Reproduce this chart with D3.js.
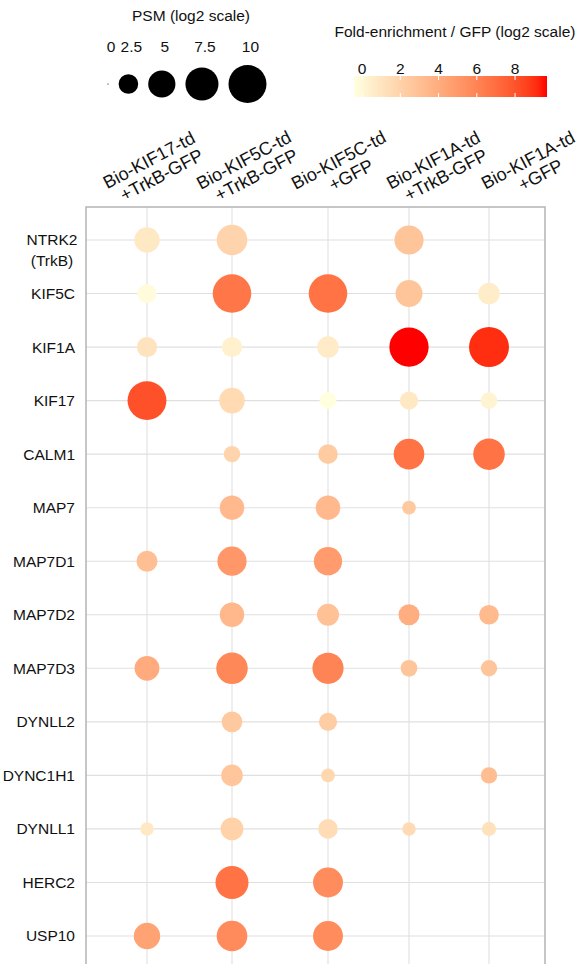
<!DOCTYPE html>
<html>
<head>
<meta charset="utf-8">
<script src="https://cdn.jsdelivr.net/npm/d3@7"></script>
<style>
  body { margin: 0; background: #fff; }
  text { font-family: "Liberation Sans", Arial, sans-serif; fill: #111; }
</style>
</head>
<body>
<div id="chart"></div>
<script>
const proteins = ["NTRK2\n(TrkB)", "KIF5C", "KIF1A", "KIF17", "CALM1", "MAP7", "MAP7D1",
    "MAP7D2", "MAP7D3", "DYNLL2", "DYNC1H1", "DYNLL1", "HERC2", "USP10"];

const conditions = ["Bio-KIF17-td\n+TrkB-GFP", "Bio-KIF5C-td\n+TrkB-GFP", "Bio-KIF5C-td\n+GFP",
    "Bio-KIF1A-td\n+TrkB-GFP", "Bio-KIF1A-td\n+GFP"];

// PSM (log2), one row per protein, one value per condition (null = not detected)
const psm = [
    [4.3, 6.4, null, 5.8, null],
    [2.4, 10.3, 10.3, 4.9, 3.05],
    [2.7, 2.7, 3.05, 10.7, 11.1],
    [10.5, 4.4, 1.8, 2.15, 1.8],
    [null, 1.7, 2.5, 6.4, 6.8],
    [null, 4.0, 4.0, 1.17, null],
    [2.9, 5.8, 5.4, null, null],
    [null, 4.0, 3.2, 2.9, 2.5],
    [4.1, 6.8, 6.65, 1.8, 1.7],
    [null, 2.8, 2.15, null, null],
    [null, 3.05, 1.17, null, 1.7],
    [1.1, 3.45, 2.5, 1.1, 1.23],
    [null, 7.5, 6.1, null, null],
    [4.7, 6.4, 6.1, null, null]
];

// fold-enrichment / GFP (log2)
const fold = [
    [0.75, 1.95, null, 2.7, null],
    [-0.2, 6.55, 6.75, 2.7, 0.55],
    [1.1, 0.35, 0.65, 9.67, 9.1],
    [8.1, 1.6, -0.4, 0.8, 0.2],
    [null, 1.95, 2.4, 6.75, 6.75],
    [null, 3.35, 3.35, 2.5, null],
    [3.0, 5.05, 4.85, null, null],
    [null, 3.4, 2.9, 3.9, 3.3],
    [4.05, 5.8, 6.0, 2.7, 2.7],
    [null, 2.5, 2.3, null, null],
    [null, 2.65, 1.7, null, 3.1],
    [0.8, 2.0, 1.45, 1.6, 1.2],
    [null, 6.75, 5.6, null, null],
    [4.45, 5.7, 5.6, null, null]
];

const sizeTicks = [0, 2.5, 5, 7.5, 10];
const colorTicks = [0, 2, 4, 6, 8];
const foldRange = [-0.42, 9.67];

const width = 580;
const height = 964;
const panel = { left: 86, right: 545, top: 207, bottom: 980 };
const fontSize = 15.5;

const svg = d3.create("svg")
    .attr("width", width)
    .attr("height", height);

const x = d3.scaleOrdinal(conditions, [147, 232, 328, 409, 489]);
const xLabel = d3.scalePoint(conditions, [149, 528]);
const y = d3.scalePoint(proteins, [240, 936]);
const size = d3.scaleSqrt([0, 10], [0.6, 19]);
const color = d3.scaleLinear(foldRange, ["#FFFFE0", "#FF0000"]).interpolate(d3.interpolateLab);

// grid
const grid = svg.append("g").attr("stroke", "#E0E0E0").attr("stroke-width", 1.1);
grid.selectAll("line.v")
    .data(conditions)
    .join("line")
    .attr("class", "v")
    .attr("x1", d => x(d)).attr("x2", d => x(d))
    .attr("y1", panel.top).attr("y2", panel.bottom);
grid.selectAll("line.h")
    .data(proteins)
    .join("line")
    .attr("class", "h")
    .attr("x1", panel.left).attr("x2", panel.right)
    .attr("y1", d => y(d)).attr("y2", d => y(d));

svg.append("rect")
    .attr("x", panel.left)
    .attr("y", panel.top)
    .attr("width", panel.right - panel.left)
    .attr("height", panel.bottom - panel.top)
    .attr("fill", "none")
    .attr("stroke", "#B8B8B8")
    .attr("stroke-width", 1.6);

// dots
const cells = proteins.flatMap((p, i) => conditions.map((c, j) => ({
    protein: p, condition: c, psm: psm[i][j], fold: fold[i][j]
}))).filter(d => d.psm !== null);

svg.append("g")
    .selectAll("circle")
    .data(cells)
    .join("circle")
    .attr("cx", d => x(d.condition))
    .attr("cy", d => y(d.protein))
    .attr("r", d => size(d.psm))
    .attr("fill", d => color(d.fold));

// row labels
const rowLabels = svg.append("g")
    .attr("font-size", fontSize)
    .selectAll("text")
    .data(proteins)
    .join("text")
    .attr("y", d => y(d))
    .attr("dy", "0.35em");
rowLabels.each(function (d) {
    const lines = d.split("\n");
    const t = d3.select(this);
    if (lines.length === 1) {
        t.attr("x", 75).attr("text-anchor", "end").text(d);
    } else {
        t.attr("text-anchor", "middle");
        lines.forEach((line, k) => {
            t.append("tspan").attr("x", 52).attr("dy", k === 0 ? "0.35em" : "1.3em").text(line);
        });
    }
});

// column labels
const lineHeight = 19;
svg.append("g")
    .attr("font-size", 18)
    .selectAll("text")
    .data(conditions)
    .join("text")
    .attr("text-anchor", "middle")
    .attr("transform", d => `translate(${xLabel(d)},160) rotate(-28)`)
    .selectAll("tspan")
    .data(d => d.split("\n"))
    .join("tspan")
    .attr("x", (d, k) => k * 4)
    .attr("y", (d, k) => k * lineHeight)
    .attr("dy", "0.35em")
    .text(d => d);

// size legend
const sizeLegend = svg.append("g").attr("font-size", fontSize);
sizeLegend.append("text")
    .attr("x", 191).attr("y", 21)
    .attr("text-anchor", "middle")
    .text("PSM (log2 scale)");

let cx = 108;
const keyX = sizeTicks.map((v, i) => {
    if (i > 0) cx += size(sizeTicks[i - 1]) + size(v) + 10;
    return cx;
});
sizeLegend.selectAll("circle")
    .data(sizeTicks)
    .join("circle")
    .attr("cx", (d, i) => keyX[i])
    .attr("cy", 84)
    .attr("r", d => size(d))
    .attr("fill", "#000");
sizeLegend.selectAll("text.tick")
    .data(sizeTicks)
    .join("text")
    .attr("class", "tick")
    .attr("x", (d, i) => keyX[i] + 3)
    .attr("y", 52)
    .attr("text-anchor", "middle")
    .text(d => d);

// colour legend
const c = d3.scaleLinear(foldRange, [354, 547]);
const defs = svg.append("defs");
const grad = defs.append("linearGradient").attr("id", "foldGrad");
grad.selectAll("stop")
    .data(d3.range(0, 1.0001, 0.05))
    .join("stop")
    .attr("offset", d => d)
    .attr("stop-color", d => color(foldRange[0] + d * (foldRange[1] - foldRange[0])));

const colorLegend = svg.append("g").attr("font-size", fontSize);
colorLegend.append("text")
    .attr("x", 455).attr("y", 37)
    .attr("text-anchor", "middle")
    .text("Fold-enrichment / GFP (log2 scale)");
colorLegend.append("rect")
    .attr("x", c.range()[0]).attr("y", 76)
    .attr("width", c.range()[1] - c.range()[0]).attr("height", 21)
    .attr("fill", "url(#foldGrad)");
const tickG = colorLegend.append("g").attr("stroke", "#fff").attr("stroke-width", 1);
tickG.selectAll("line.top")
    .data(colorTicks)
    .join("line")
    .attr("class", "top")
    .attr("x1", d => c(d)).attr("x2", d => c(d))
    .attr("y1", 76).attr("y2", 80);
tickG.selectAll("line.bottom")
    .data(colorTicks)
    .join("line")
    .attr("class", "bottom")
    .attr("x1", d => c(d)).attr("x2", d => c(d))
    .attr("y1", 93).attr("y2", 97);
colorLegend.selectAll("text.tick")
    .data(colorTicks)
    .join("text")
    .attr("class", "tick")
    .attr("x", d => c(d))
    .attr("y", 74)
    .attr("text-anchor", "middle")
    .text(d => d);

d3.select("#chart").node().append(svg.node());
</script>
</body>
</html>
